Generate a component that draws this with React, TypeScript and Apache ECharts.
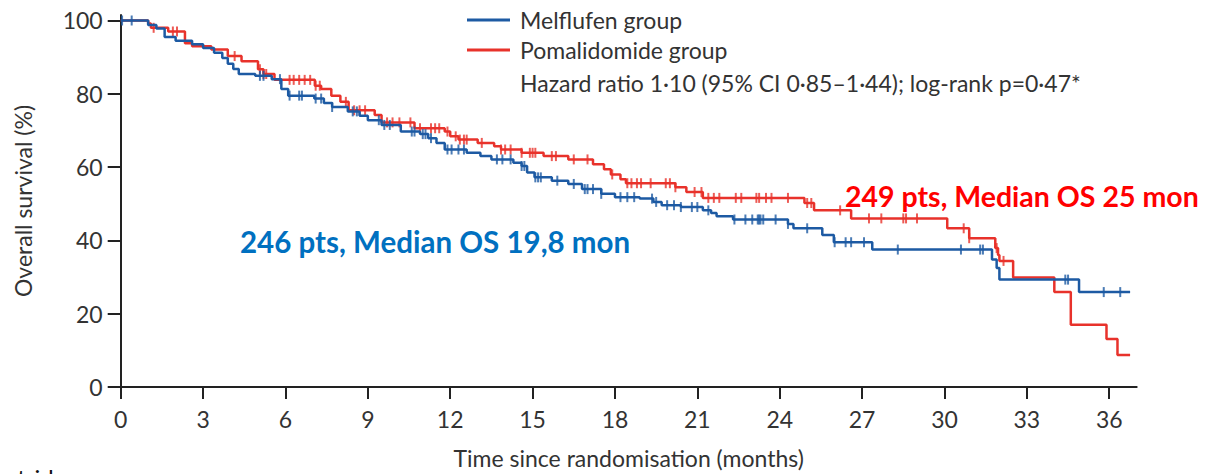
import React, { useEffect, useRef } from "react";
import * as echarts from "echarts";

// Kaplan–Meier step points: time (months) and overall survival (%)
const melflufenTimes = [0, 1.0, 1.3, 1.6, 2.0, 2.6, 3.0, 3.4, 3.7, 3.9, 4.1, 4.3, 4.9, 5.5, 5.85, 6.1, 7.05, 7.4, 7.7, 8.27, 8.7, 9.0, 9.5, 10.2, 10.9, 11.2, 11.5, 11.8, 12.6, 13.1, 13.5, 14.3, 14.6, 14.8, 15.07, 15.7, 16.3, 16.8, 17.5, 18.0, 18.9, 19.4, 19.7, 20.4, 21.2, 21.5, 21.7, 22.3, 24.3, 24.5, 25.55, 25.97, 27.37, 31.73, 31.9, 32.0, 34.9, 36.76];
const melflufenSurvival = [100, 98.8, 97.8, 95.5, 94.5, 93.5, 92.5, 91.2, 89.8, 88.2, 86.8, 85.4, 84.9, 84.0, 81.3, 79.5, 78.7, 77.5, 76.4, 75.2, 74.0, 72.8, 71.5, 69.7, 69.0, 67.9, 66.6, 64.8, 63.9, 63.0, 62.1, 61.2, 60.3, 58.5, 57.2, 56.3, 55.4, 54.0, 52.7, 51.8, 51.4, 50.5, 49.6, 49.1, 48.2, 47.5, 46.6, 45.7, 44.5, 43.3, 41.5, 39.5, 37.5, 34.8, 32.5, 29.3, 25.9, 25.9];

const pomalidomideTimes = [0, 1.0, 1.1, 1.73, 2.34, 2.6, 3.3, 3.9, 4.4, 5.0, 5.2, 5.6, 7.07, 7.3, 7.67, 8.0, 8.3, 9.25, 9.5, 10.7, 11.8, 12.0, 12.3, 13.0, 13.6, 13.85, 14.6, 15.4, 16.3, 17.2, 17.6, 17.85, 18.2, 18.4, 20.2, 20.6, 21.2, 24.9, 25.25, 26.6, 30.1, 30.9, 31.85, 31.95, 32.0, 32.5, 34.0, 34.6, 35.9, 36.3, 36.76];
const pomalidomideSurvival = [100, 99.2, 98.0, 97.0, 93.8, 93.0, 92.1, 90.3, 88.9, 86.7, 85.4, 83.8, 82.2, 81.3, 79.5, 77.8, 75.5, 74.2, 72.2, 70.6, 69.7, 68.4, 67.5, 66.6, 65.7, 64.8, 63.9, 63.0, 62.1, 60.8, 59.4, 58.0, 56.7, 55.6, 54.5, 53.2, 51.6, 50.2, 48.2, 46.0, 43.3, 40.6, 37.9, 36.0, 34.4, 29.9, 25.9, 17.0, 13.1, 8.7, 8.7];

// Censoring times (months)
const melflufenCensored = [0.05, 0.4, 5.07, 5.2, 5.8, 6.15, 6.5, 6.6, 7.1, 7.3, 7.7, 8.45, 8.6, 9.4, 9.6, 9.8, 10.6, 10.7, 11.0, 11.1, 11.3, 11.9, 12.05, 12.3, 12.5, 13.7, 13.9, 14.2, 14.6, 14.7, 15.1, 15.2, 15.3, 15.9, 16.5, 16.9, 17.0, 17.2, 17.5, 18.2, 18.45, 18.7, 19.35, 19.5, 19.9, 20.15, 20.4, 20.8, 21.0, 21.4, 22.35, 22.75, 23.0, 23.2, 23.25, 23.3, 23.4, 23.85, 24.3, 25.0, 26.0, 26.4, 26.6, 27.07, 28.3, 30.6, 31.3, 31.4, 34.4, 34.5, 35.8, 36.4];
const pomalidomideCensored = [1.2, 1.9, 2.05, 4.15, 5.07, 5.2, 5.3, 6.15, 6.3, 6.5, 6.7, 6.9, 7.1, 7.25, 8.2, 8.5, 8.7, 8.9, 9.7, 9.9, 10.15, 10.55, 10.9, 11.3, 11.45, 11.6, 11.9, 12.2, 12.35, 12.5, 12.6, 13.15, 13.85, 14.0, 14.2, 14.6, 14.9, 15.0, 15.1, 15.7, 15.85, 16.5, 17.0, 17.9, 18.45, 18.6, 18.8, 18.95, 19.3, 19.85, 20.0, 20.2, 20.9, 21.15, 21.4, 21.6, 21.8, 22.4, 22.6, 23.15, 23.25, 23.5, 23.7, 24.3, 25.0, 25.15, 26.2, 27.25, 27.7, 28.5, 28.6, 29.0, 30.7, 30.9, 31.9, 32.15];

const xTicks = [0, 3, 6, 9, 12, 15, 18, 21, 24, 27, 30, 33, 36];
const yTicks = [0, 20, 40, 60, 80, 100];

const seriesNames = ["Melflufen group", "Pomalidomide group"];
const statsText = "Hazard ratio 1·10 (95% CI 0·85–1·44); log-rank p=0·47*";
const melflufenNote = "246 pts, Median OS 19,8 mon";
const pomalidomideNote = "249 pts, Median OS 25 mon";

const BLUE = "#1d5aa3";
const RED = "#e8322b";
const INK = "#333333";
const FONT = "Lato, 'Open Sans', sans-serif";

function pairs(times: number[], values: number[]) {
  return times.map((t, i) => [t, values[i]]);
}

// survival value of a step curve at time t
function survivalAt(times: number[], values: number[], t: number) {
  let v = values[0];
  for (let i = 0; i < times.length; i++) {
    if (times[i] <= t) v = values[i];
    else break;
  }
  return v;
}

function censorMarks(times: number[], values: number[], censored: number[]) {
  return censored.map((t) => [t, survivalAt(times, values, t)]);
}

export default function App() {
  const ref = useRef<HTMLDivElement>(null);

  useEffect(() => {
    if (!ref.current) return;
    const chart = echarts.init(ref.current, null, { renderer: "svg" });

    const tickLabel = { fontFamily: FONT, fontSize: 23, color: INK };
    const axisLine = { show: true, lineStyle: { color: "#222", width: 2 } };

    chart.setOption({
      animation: false,
      backgroundColor: "#ffffff",
      grid: { left: 120.7, top: 15, width: 1016, height: 378, containLabel: false },
      legend: {
        data: seriesNames,
        orient: "vertical",
        left: 467,
        top: 8,
        padding: 0,
        itemGap: 6,
        itemWidth: 43,
        itemHeight: 3,
        icon: "rect",
        textStyle: { fontFamily: FONT, fontSize: 23, color: INK, lineHeight: 24, padding: [0, 0, 0, 5] },
      },
      xAxis: {
        type: "value",
        min: 0,
        max: 37,
        name: "Time since randomisation (months)",
        nameLocation: "middle",
        nameGap: 59,
        nameTextStyle: { fontFamily: FONT, fontSize: 23, color: INK },
        axisLine,
        axisTick: { show: true, inside: false, length: 12, lineStyle: { color: "#222", width: 2 }, customValues: xTicks },
        axisLabel: { ...tickLabel, margin: 20, customValues: xTicks },
        splitLine: { show: false },
      },
      yAxis: {
        type: "value",
        min: 0,
        max: 101.5,
        name: "Overall survival (%)",
        nameLocation: "middle",
        nameRotate: 90,
        nameGap: 86,
        nameTextStyle: { fontFamily: FONT, fontSize: 23, color: INK },
        axisLine,
        axisTick: { show: true, inside: false, length: 13, lineStyle: { color: "#222", width: 2 }, customValues: yTicks },
        axisLabel: { ...tickLabel, margin: 18, customValues: yTicks },
        splitLine: { show: false },
      },
      series: [
        {
          name: seriesNames[0],
          type: "line",
          step: "end",
          showSymbol: false,
          z: 4,
          itemStyle: { color: BLUE },
          lineStyle: { color: BLUE, width: 2.5 },
          data: pairs(melflufenTimes, melflufenSurvival),
        },
        {
          name: seriesNames[1],
          type: "line",
          step: "end",
          showSymbol: false,
          z: 3,
          itemStyle: { color: RED },
          lineStyle: { color: RED, width: 2.5 },
          data: pairs(pomalidomideTimes, pomalidomideSurvival),
        },
        {
          name: "Melflufen censored",
          type: "scatter",
          symbol: "rect",
          symbolSize: [2, 10],
          z: 4,
          itemStyle: { color: BLUE },
          data: censorMarks(melflufenTimes, melflufenSurvival, melflufenCensored),
        },
        {
          name: "Pomalidomide censored",
          type: "scatter",
          symbol: "rect",
          symbolSize: [2, 10],
          z: 3,
          itemStyle: { color: RED },
          data: censorMarks(pomalidomideTimes, pomalidomideSurvival, pomalidomideCensored),
        },
      ],
      graphic: [
        {
          type: "text",
          left: 520,
          top: 71,
          style: { text: statsText, fontFamily: FONT, fontSize: 23, fill: INK },
        },
        {
          type: "text",
          left: 240,
          top: 226,
          style: { text: melflufenNote, fontFamily: FONT, fontSize: 29.5, fontWeight: "bold", fill: "#0070c0" },
        },
        {
          type: "text",
          left: 845,
          top: 181,
          style: { text: pomalidomideNote, fontFamily: FONT, fontSize: 28.5, fontWeight: "bold", fill: "#ff0000" },
        },
        {
          type: "text",
          left: 4,
          top: 465,
          style: { text: "ntride", fontFamily: FONT, fontSize: 24, fill: "#111" },
        },
      ],
    });

    return () => chart.dispose();
  }, []);

  return (
    <div
      ref={ref}
      style={{ position: "fixed", left: 0, top: 0, width: 1214, height: 474, background: "#fff" }}
    />
  );
}
